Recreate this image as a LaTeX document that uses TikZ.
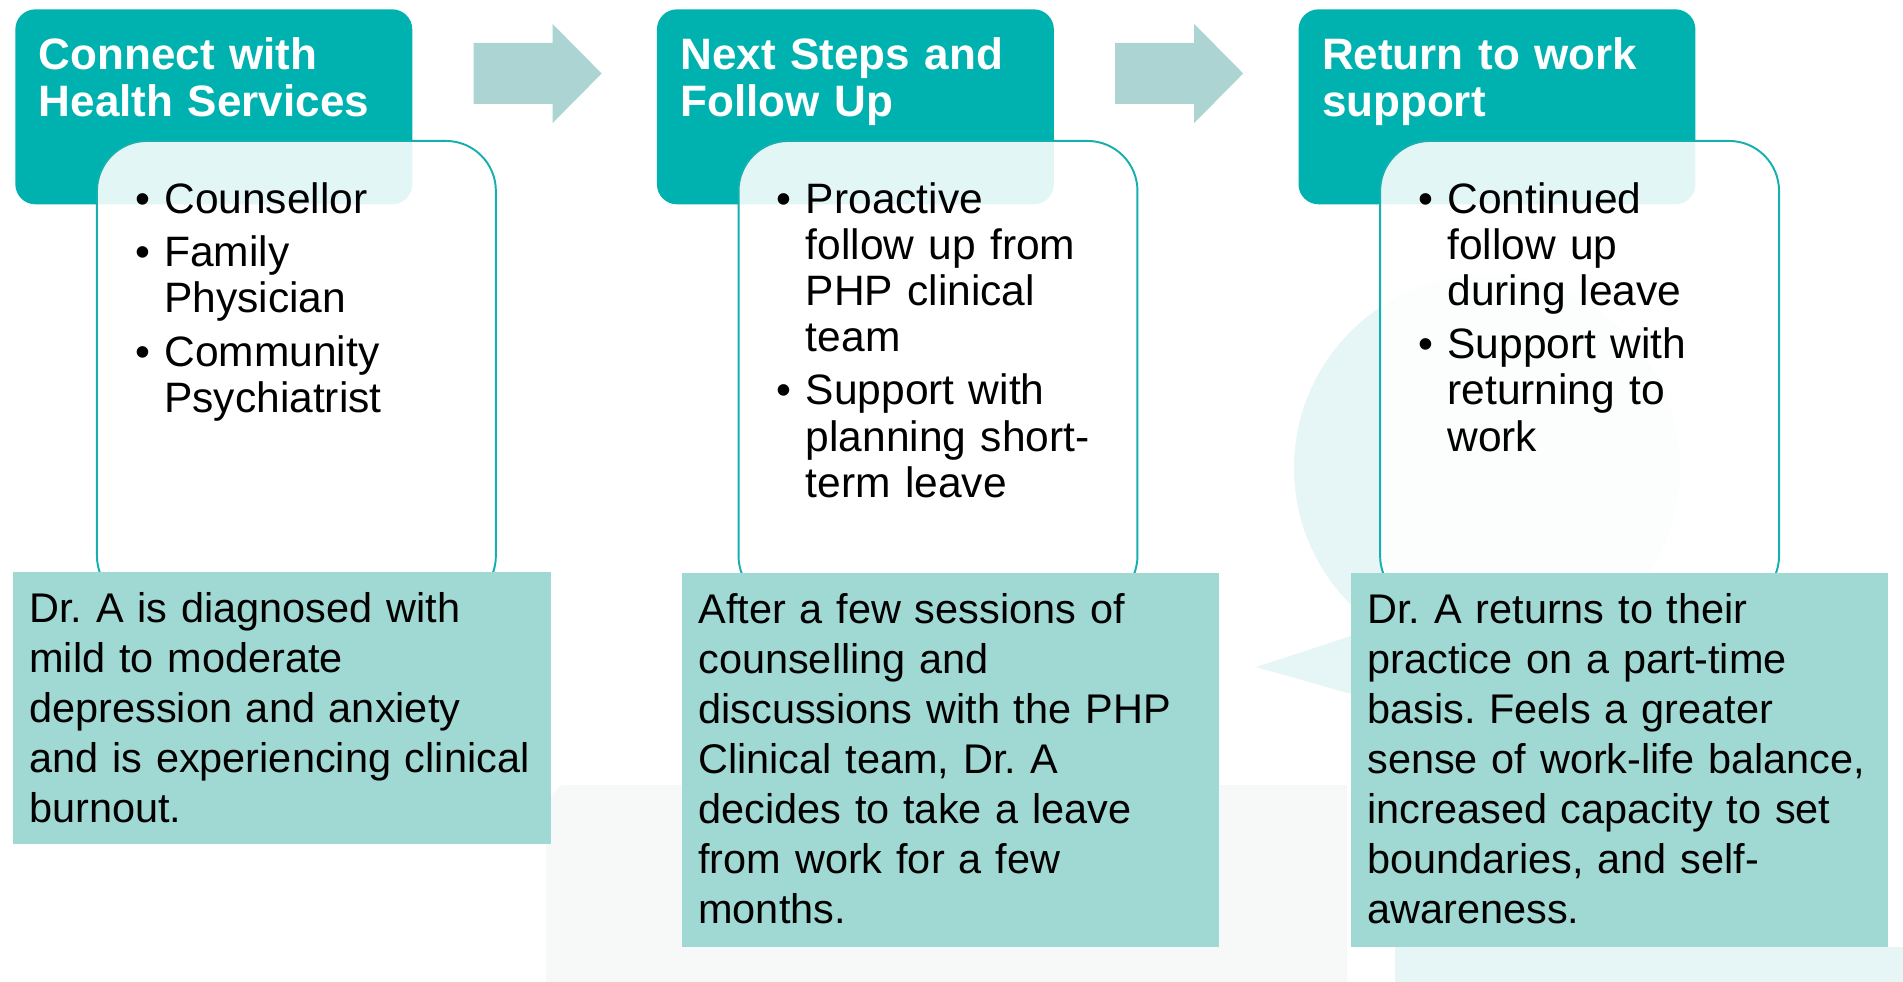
\documentclass[tikz,border=0pt]{standalone}
\usepackage{fontspec}
\setmainfont{Liberation Sans}
\usetikzlibrary{positioning,calc}
\usepackage{xcolor}

\definecolor{hdteal}{HTML}{00B2AF}
\definecolor{boxline}{HTML}{14AFAE}
\definecolor{arrowteal}{HTML}{ABD4D3}
\definecolor{descteal}{HTML}{A0D8D3}
\definecolor{wmcyan}{HTML}{E6F5F5}
\definecolor{wmgrey}{HTML}{F6F9F8}

\newenvironment{steplist}{%
	\begin{list}{\textbullet}{%
		\setlength{\leftmargin}{0.58cm}%
		\setlength{\labelwidth}{0.58cm}%
		\setlength{\labelsep}{0pt}%
		\setlength{\itemsep}{4.27pt}%
		\setlength{\parsep}{0pt}%
		\setlength{\topsep}{0pt}%
		\setlength{\partopsep}{0pt}%
		\renewcommand{\makelabel}[1]{##1\hfil}}}%
	{\end{list}}

\begin{document}
\frenchspacing
\begin{tikzpicture}
	[   x=0.02cm, y=-0.02cm,
	    headbox/.style={draw=none,fill=hdteal,rounded corners=0.4cm,minimum width=7.94cm,minimum height=3.9cm,inner sep=0pt},
	    listbox/.style={draw=boxline,line width=1.1pt,fill=white,fill opacity=0.89,rounded corners=1cm,minimum width=7.98cm,minimum height=9.3cm,inner sep=0pt},
	    descbox/.style={fill=descteal,minimum width=10.76cm,inner sep=0pt,anchor=north west},
	    headtext/.style={text=white,font=\fontsize{25.04}{27.0}\selectfont\bfseries,text width=7.2cm,align=left,inner sep=0pt},
	    listtext/.style={font=\fontsize{24.2}{26.2}\selectfont,text width=6.6cm,inner sep=0pt,execute at begin node=\raggedright},
	    desctext/.style={font=\fontsize{23.6}{28.45}\selectfont,text width=10.4cm,align=left,inner sep=0pt},
	]
	\useasboundingbox (0,0) rectangle (1903,982);
	
	% faint logo in the background
	\fill[wmgrey] (546,800) -- (561,785) -- (1347,785) -- (1347,982) -- (546,982) -- cycle;
	\fill[wmcyan] (1487,468) circle (3.86cm);
	\fill[wmcyan] (1256,667) -- (1351,636) -- (1351,694) -- cycle;
	\fill[wmcyan] (1395,947) rectangle (1903,982);
	
	% step headers
	\node[headbox,anchor=north west] (hd1) at (15,9) {};
	\node[headbox,right=4.88cm of hd1] (hd2) {};
	\node[headbox,right=4.88cm of hd2] (hd3) {};
	
	\foreach \a in {hd1,hd2}
	{
		\fill[arrowteal] ($(\a.north east)+(61,34)$) -- ++(79,0) -- ++(0,-19) -- ++(49,49.5) -- ++(-49,49.5) -- ++(0,-19) -- ++(-79,0) -- cycle;
	}
	
	\node[headtext,below right=0.56cm and 0.47cm of hd1.north west] (hd1txt) {Connect with\\Health Services};
	\node[headtext,below right=0.56cm and 0.47cm of hd2.north west] (hd2txt) {Next Steps and\\Follow Up};
	\node[headtext,below right=0.56cm and 0.47cm of hd3.north west] (hd3txt) {Return to work\\support};
	
	% bullet boxes
	\node[listbox,below right=2.62cm and 1.62cm of hd1.north west] (bl1) {};
	\node[listbox,below right=2.62cm and 1.62cm of hd2.north west] (bl2) {};
	\node[listbox,below right=2.62cm and 1.62cm of hd3.north west] (bl3) {};
	
	\node[listtext,below right=0.54cm and 0.78cm of bl1.north west] (bl1txt) {\begin{steplist}\item Counsellor\item Family\\Physician\item Community\\Psychiatrist\end{steplist}};
	\node[listtext,below right=0.54cm and 0.78cm of bl2.north west] (bl2txt) {\begin{steplist}\item Proactive\\follow up from\\PHP clinical\\team\item Support with\\planning short-\\term leave\end{steplist}};
	\node[listtext,below right=0.54cm and 0.78cm of bl3.north west] (bl3txt) {\begin{steplist}\item Continued\\follow up\\during leave\item Support with\\returning to\\work\end{steplist}};
	
	% case descriptions
	\node[descbox,minimum height=5.44cm] (ds1) at (13,572) {};
	\node[descbox,minimum height=7.48cm,minimum width=10.74cm] (ds2) at (682,573) {};
	\node[descbox,minimum height=7.48cm,minimum width=10.74cm] (ds3) at (1351,573) {};
	
	\node[desctext,below right=0.4cm and 0.32cm of ds1.north west] (ds1txt) {Dr. A is diagnosed with\\mild to moderate\\depression and anxiety\\and is experiencing clinical\\burnout.};
	\node[desctext,below right=0.4cm and 0.32cm of ds2.north west] (ds2txt) {After a few sessions of\\counselling and\\discussions with the PHP\\Clinical team, Dr. A\\decides to take a leave\\from work for a few\\months.};
	\node[desctext,below right=0.4cm and 0.32cm of ds3.north west] (ds3txt) {Dr. A returns to their\\practice on a part-time\\basis. Feels a greater\\sense of work-life balance,\\increased capacity to set\\boundaries, and self-\\awareness.};
\end{tikzpicture}
\end{document}
